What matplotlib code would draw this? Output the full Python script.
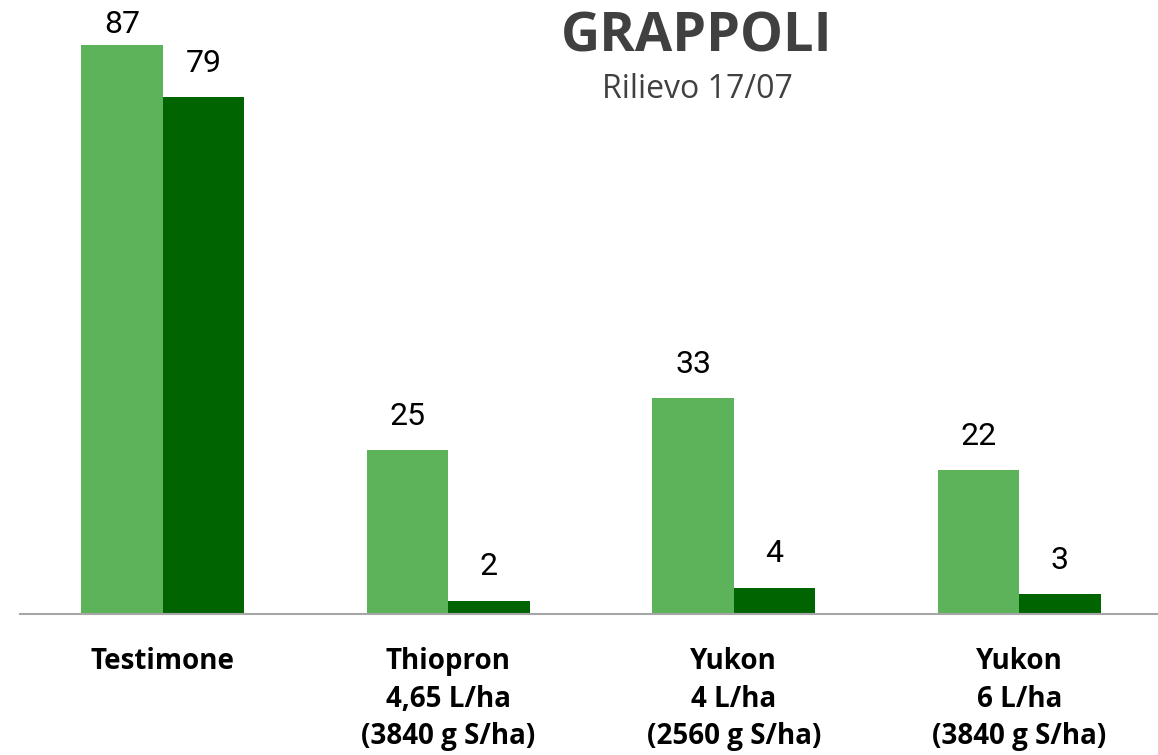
import numpy as np
import matplotlib.pyplot as plt

# dati
categorie = ['Testimone', 'Thiopron\n4,65 L/ha\n(3840 g S/ha)',
             'Yukon\n4 L/ha\n(2560 g S/ha)', 'Yukon\n6 L/ha\n(3840 g S/ha)']
serie_chiara = [87, 25, 33, 22]
serie_scura = [79, 2, 4, 3]

verde_chiaro = '#5DB35A'
verde_scuro = '#006400'

fig = plt.figure(figsize=(11.58, 7.55), dpi=100)
ax = fig.add_axes([0.0173, 0.1868, 0.9837, 0.797])

x = np.arange(len(categorie))
w = 0.285
ax.bar(x - w / 2, serie_chiara, w, color=verde_chiaro)
ax.bar(x + w / 2, serie_scura, w, color=verde_scuro)

ymax = 92
ax.set_ylim(0, ymax)
ax.set_xlim(-0.5, 3.49)

# etichette valori
for xs, vals in ((x - w / 2, serie_chiara), (x + w / 2, serie_scura)):
    for xi, v in zip(xs, vals):
        ax.text(xi, min(v + 5.2, 90.2), str(v), ha='center', va='center',
                fontsize=23, family='Roboto', color='black')

for s in ('top', 'right', 'left'):
    ax.spines[s].set_visible(False)
ax.spines['bottom'].set_color('#A6A6A6')
ax.spines['bottom'].set_linewidth(1.5)
ax.set_yticks([])
ax.set_xticks(x)
ax.set_xticklabels(categorie, fontsize=20, fontweight='bold', family='Open Sans',
                   linespacing=1.38, va='top')
ax.tick_params(axis='x', length=0, pad=24)

fig.text(0.602, 0.95, 'GRAPPOLI', ha='center', va='center', fontsize=39,
         fontweight='bold', family='Open Sans', color='#404040')
fig.text(0.602, 0.881, 'Rilievo 17/07', ha='center', va='center', fontsize=23,
         family='Open Sans', color='#404040')

fig.savefig('out.png', dpi=100)
